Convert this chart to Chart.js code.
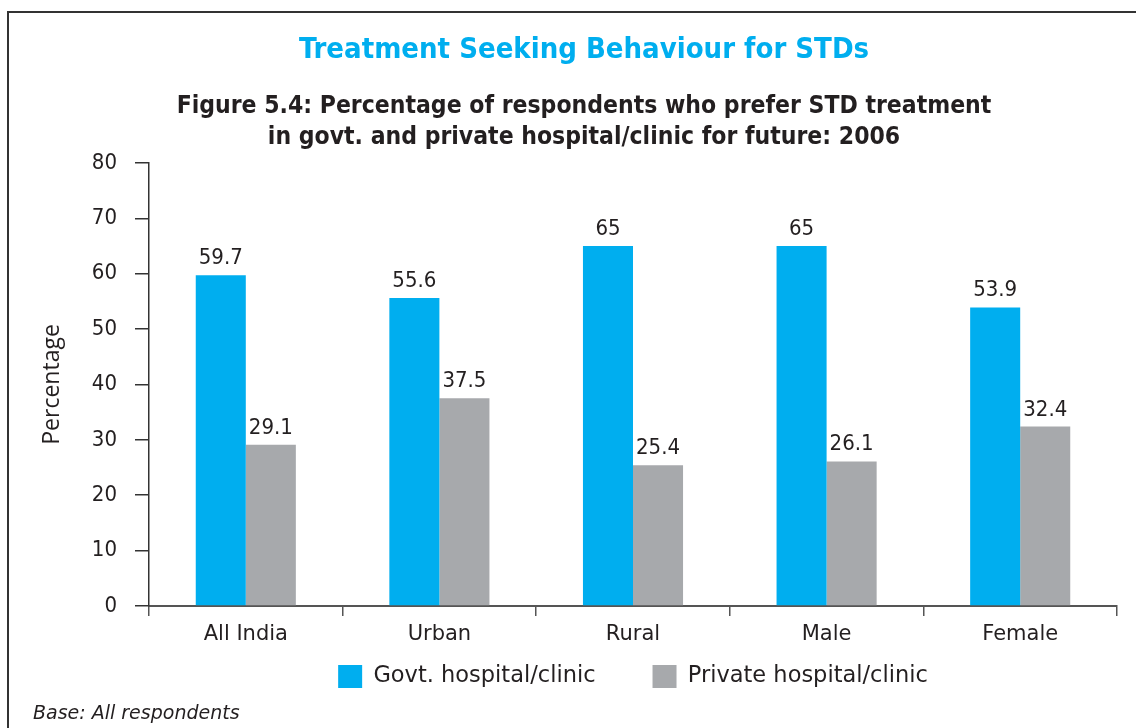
<!DOCTYPE html>
<html>
<head>
<meta charset="utf-8">
<script src="https://cdn.jsdelivr.net/npm/chart.js@4/dist/chart.umd.min.js"></script>
<style>
  html, body { margin: 0; padding: 0; background: #fff; }
  #wrap { position: relative; width: 1136px; height: 728px; overflow: hidden; }
  #frame { position: absolute; left: 7px; top: 11px; width: 1140px; height: 740px; border: 2px solid #333; box-sizing: border-box; }
  #chartBox { position: absolute; left: 0; top: 0; width: 1136px; height: 728px; }
  #note { position: absolute; left: 33px; top: 701px; line-height: 19px; font: italic 19px "DejaVu Sans", sans-serif; color: #231f20; }
</style>
</head>
<body>
<div id="wrap">
  <div id="frame"></div>
  <div id="chartBox"><canvas id="stdChart" width="1136" height="728"></canvas></div>
  <div id="note">Base: All respondents</div>
</div>
<script>
const categories = ["All India", "Urban", "Rural", "Male", "Female"];
const govtValues = [59.7, 55.6, 65, 65, 53.9];
const privateValues = [29.1, 37.5, 25.4, 26.1, 32.4];
const yTicks = [0, 10, 20, 30, 40, 50, 60, 70, 80];

const COND = "'DejaVu Sans Condensed', 'DejaVu Sans', sans-serif";
const WIDE = "'DejaVu Sans', sans-serif";
const TEXT = "#231f20";

// numbers above each bar
const barLabels = {
  id: "barLabels",
  afterDatasetsDraw(chart) {
    const ctx = chart.ctx;
    ctx.save();
    ctx.font = "22px " + COND;
    ctx.fillStyle = TEXT;
    ctx.textAlign = "center";
    ctx.textBaseline = "alphabetic";
    chart.data.datasets.forEach((ds, i) => {
      chart.getDatasetMeta(i).data.forEach((bar, j) => {
        ctx.fillText(String(ds.data[j]), bar.x, bar.y - 11);
      });
    });
    ctx.restore();
  }
};

const ctx = document.getElementById("stdChart").getContext("2d");
new Chart(ctx, {
  type: "bar",
  data: {
    labels: categories,
    datasets: [
      { label: "Govt. hospital/clinic", data: govtValues, backgroundColor: "#00aeef" },
      { label: "Private hospital/clinic", data: privateValues, backgroundColor: "#a7a9ac" }
    ]
  },
  options: {
    responsive: false,
    animation: false,
    layout: { padding: { left: 51, right: 19, top: 0, bottom: 30 } },
    datasets: { bar: { barPercentage: 1, categoryPercentage: 0.517 } },
    plugins: {
      title: {
        display: true,
        text: "Treatment Seeking Behaviour for STDs",
        color: "#00aeef",
        font: { family: COND, size: 29, weight: "bold", lineHeight: 1.2 },
        padding: { top: 32.6, bottom: 18 }
      },
      subtitle: {
        display: true,
        text: ["Figure 5.4: Percentage of respondents who prefer STD treatment",
               "in govt. and private hospital/clinic for future: 2006"],
        color: TEXT,
        font: { family: COND, size: 24.5, weight: "bold", lineHeight: 1.28 },
        padding: { top: 5.4, bottom: 9.4 }
      },
      legend: {
        position: "bottom",
        fullSize: false,
        labels: {
          boxWidth: 24,
          boxHeight: 23,
          padding: 57,
          color: TEXT,
          font: { family: WIDE, size: 22.5 }
        }
      },
      tooltip: { enabled: false }
    },
    scales: {
      x: {
        grid: { drawOnChartArea: false, offset: true, tickLength: 10, color: "#555", lineWidth: 1.5 },
        border: { color: "#555", width: 2 },
        // mirrored labels are not clipped to the (shrunk) axis box
        ticks: { mirror: true, padding: -41, color: TEXT, font: { family: WIDE, size: 21 } },
        afterFit(scale) { scale.height = 2; }
      },
      y: {
        min: 0,
        max: 80,
        afterBuildTicks(scale) { scale.ticks = yTicks.map(v => ({ value: v })); },
        grid: { drawOnChartArea: false, tickLength: 14, color: "#333", lineWidth: 1.5 },
        border: { color: "#333", width: 1.5 },
        ticks: { color: TEXT, padding: 18, font: { family: COND, size: 22 } },
        title: {
          display: true,
          text: "Percentage",
          color: TEXT,
          font: { family: "'Open Sans', sans-serif", size: 23 },
          padding: { top: -12, bottom: 0 }
        },
        afterFit(scale) { scale.width = 98; }
      }
    }
  },
  plugins: [barLabels]
});
</script>
</body>
</html>
